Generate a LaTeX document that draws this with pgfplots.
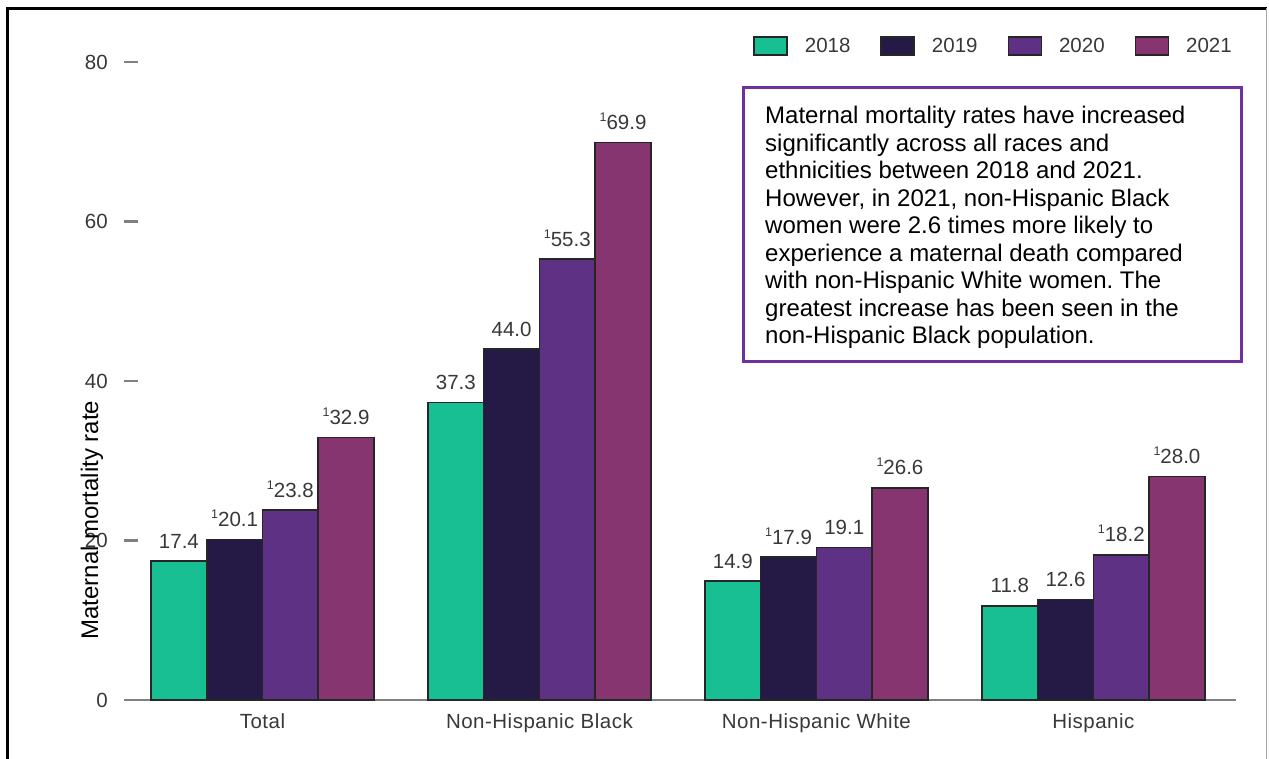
\documentclass[border=0pt]{standalone}
\usepackage{fontspec}
\setmainfont{Liberation Sans}
\newfontfamily\tickfont[LetterSpace=2.4]{Liberation Sans}
\usepackage{pgfplots}
\pgfplotsset{compat=1.18}

\definecolor{c18}{HTML}{18BF93}
\definecolor{c19}{HTML}{241A45}
\definecolor{c20}{HTML}{5E3185}
\definecolor{c21}{HTML}{873570}
\definecolor{boxpurple}{HTML}{7030A0}
\definecolor{axgray}{HTML}{808080}
\definecolor{txtgray}{HTML}{383838}
\newcommand{\supone}{\raisebox{8pt}{\fontsize{12.5}{13}\selectfont 1}}

\begin{document}
\frenchspacing
\begin{tikzpicture}[x=1pt,y=1pt]
\path[use as bounding box] (0,0) rectangle (1269,759);
% outer frame
\draw[line width=3pt, black] (7.5,0) -- (7.5,750.7) -- (1267,750.7);
\draw[line width=1.2pt, black!35] (1266.7,750.7) -- (1266.7,0);

\begin{axis}[
  at={(124pt,59pt)}, anchor=south west,
  scale only axis, width=1112pt, height=638pt,
  xmin=-0.5, xmax=3.515, ymin=0, ymax=80,
  clip=false,
  ybar=0pt, bar width=55.7pt,
  axis x line*=bottom, axis y line*=left,
  y axis line style={draw=none},
  x axis line style={axgray, line width=2.5pt, -},
  xtick={0,1,2,3},
  xticklabels={Total, Non-Hispanic Black, Non-Hispanic White, Hispanic},
  x tick style={draw=none},
  ytick={0,20,40,60,80},
  y tick style={axgray, line width=2.5pt},
  tick align=inside, major tick length=14pt,
  /pgf/number format/assume math mode=true,
  tick label style={font=\fontsize{20.5}{24}\selectfont, text=txtgray},
  xticklabel style={yshift=-10.5pt, font=\tickfont\fontsize{20.5}{24}\selectfont},
  yticklabel style={xshift=-12.7pt},
  ylabel={Maternal mortality rate},
  ylabel style={at={(axis description cs:-0.0288,0.282)}, anchor=center,
    font=\fontsize{24}{28}\selectfont, text=black},
  point meta=explicit symbolic,
  nodes near coords,
  nodes near coords style={font=\fontsize{20.5}{24}\selectfont, text=txtgray,
    anchor=south, inner sep=0pt, yshift=12pt},
  every axis plot/.append style={draw=black!85, line width=1.5pt},
  legend columns=4,
  legend style={at={(0.9964,1.0251)}, anchor=east, draw=none, fill=none,
    inner sep=0pt, font=\fontsize{20.5}{24}\selectfont, text=txtgray,
    nodes={inner sep=0pt},
    /tikz/every odd column/.append style={column sep=17pt},
    /tikz/every even column/.append style={column sep=30pt}},
  legend image code/.code={\draw[#1, line width=1.5pt] (0pt,-9pt) rectangle (33pt,9pt);},
]
\addplot[fill=c18] coordinates {(0,17.4) [17.4] (1,37.3) [37.3] (2,14.9) [14.9] (3,11.8) [11.8]};
\addplot[fill=c19] coordinates {(0,20.1) [{\supone20.1}] (1,44.0) [44.0] (2,17.9) [{\supone17.9}] (3,12.6) [12.6]};
\addplot[fill=c20] coordinates {(0,23.8) [{\supone23.8}] (1,55.3) [{\supone55.3}] (2,19.1) [19.1] (3,18.2) [{\supone18.2}]};
\addplot[fill=c21] coordinates {(0,32.9) [{\supone32.9}] (1,69.9) [{\supone69.9}] (2,26.6) [{\supone26.6}] (3,28.0) [{\supone28.0}]};
\legend{2018,2019,2020,2021}
\end{axis}

% annotation box
\draw[boxpurple, line width=3pt] (743,397) rectangle (1241,671);
\node[anchor=north west, align=left, inner sep=0pt, font=\fontsize{24}{27.5}\selectfont]
  at (765,653) {Maternal mortality rates have increased\\
significantly across all races and\\
ethnicities between 2018 and 2021.\\
However, in 2021, non-Hispanic Black\\
women were 2.6 times more likely to\\
experience a maternal death compared\\
with non-Hispanic White women. The\\
greatest increase has been seen in the\\
non-Hispanic Black population.};
\end{tikzpicture}
\end{document}
